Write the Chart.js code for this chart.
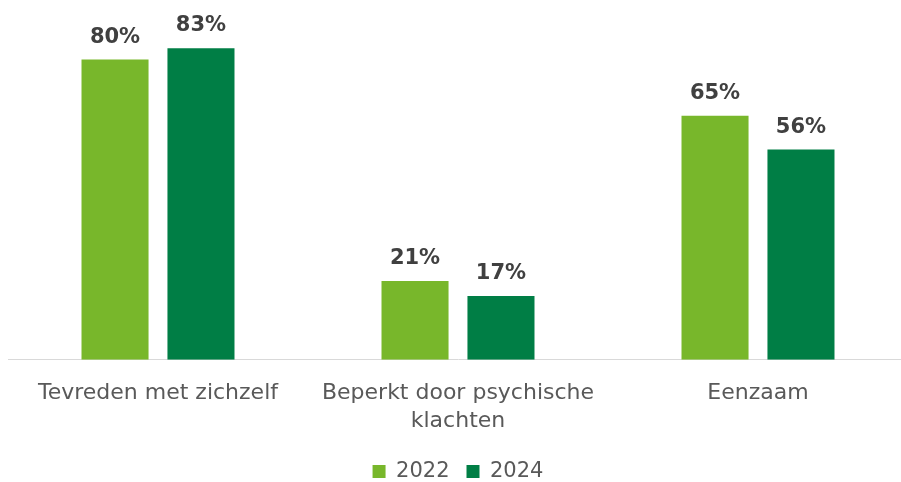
<!DOCTYPE html>
<html>
<head>
<meta charset="utf-8">
<script src="https://cdn.jsdelivr.net/npm/chart.js@4.4.0/dist/chart.umd.min.js"></script>
<style>
  html, body { margin: 0; padding: 0; background: #ffffff; overflow: hidden; }
  /* the plot runs a few px past the right edge, like the original */
  #wrap { width: 908px; height: 492px; position: relative; }
</style>
</head>
<body>
<div id="wrap"><canvas id="chart"></canvas></div>
<script>
// Categories and values (percentages)
const categories = [
    'Tevreden met zichzelf',
    ['Beperkt door psychische', 'klachten'],
    'Eenzaam'
];
const seriesNames = ['2022', '2024'];
const values2022 = [80, 21, 65];
const values2024 = [83, 17, 56];

const colours = ['#78B72B', '#007E45'];
const fontFamily = '"DejaVu Sans", "Noto Sans", sans-serif';

// Draws the percentage above each bar
const valueLabels = {
    id: 'valueLabels',
    afterDatasetsDraw(chart) {
        const ctx = chart.ctx;
        ctx.save();
        ctx.font = 'bold 21px ' + fontFamily;
        ctx.fillStyle = '#404040';
        ctx.textAlign = 'center';
        ctx.textBaseline = 'alphabetic';
        chart.data.datasets.forEach((ds, i) => {
            chart.getDatasetMeta(i).data.forEach((bar, j) => {
                ctx.fillText(ds.data[j] + '%', bar.x, bar.y - 17);
            });
        });
        ctx.restore();
    }
};

let ctx = document.getElementById('chart');

new Chart(ctx, {
    type: 'bar',
    data: {
        labels: categories,
        datasets: [
            {
                label: seriesNames[0],
                data: values2022,
                backgroundColor: colours[0],
                categoryPercentage: 0.573,
                barPercentage: 0.78
            },
            {
                label: seriesNames[1],
                data: values2024,
                backgroundColor: colours[1],
                categoryPercentage: 0.573,
                barPercentage: 0.78
            }
        ]
    },
    options: {
        responsive: true,
        maintainAspectRatio: false,
        animation: false,
        layout: {
            padding: { top: 22, left: 8, right: 0, bottom: 0 }
        },
        plugins: {
            legend: {
                position: 'bottom',
                labels: {
                    color: '#595959',
                    boxWidth: 13,
                    boxHeight: 13,
                    padding: 17,
                    font: { family: fontFamily, size: 21 }
                }
            },
            tooltip: { enabled: false }
        },
        scales: {
            x: {
                grid: { display: false },
                border: { color: '#D9D9D9', width: 1 },
                ticks: {
                    color: '#595959',
                    padding: 11,
                    maxRotation: 0,
                    autoSkip: false,
                    font: { family: fontFamily, size: 22, lineHeight: 1.3 }
                },
                // pull the labels a little closer to the legend
                afterFit(scale) {
                    scale.height -= 3;
                }
            },
            y: {
                display: false,
                min: 0,
                max: 90
            }
        }
    },
    plugins: [valueLabels]
});
</script>
</body>
</html>
